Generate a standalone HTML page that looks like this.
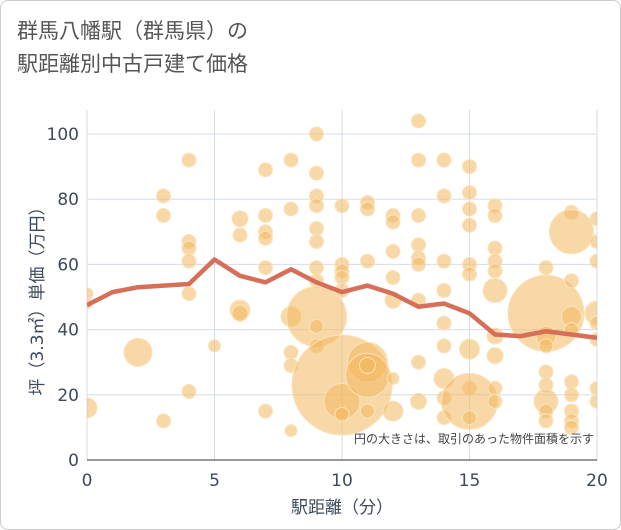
<!DOCTYPE html>
<html><head><meta charset="utf-8">
<style>
body{margin:0;background:#fff;font-family:"DejaVu Sans","Noto Sans CJK JP",sans-serif;}
#wrap{position:relative;width:619px;height:528px;border:1px solid #ccc;border-radius:8px;overflow:hidden;background:#fff}
.title{position:absolute;left:16px;top:14px;font-size:21px;line-height:33px;color:#555;font-family:"Liberation Sans","Noto Sans CJK JP",sans-serif;}
</style></head><body>
<div id="wrap">
<div class="title">群馬八幡駅（群馬県）の<br>駅距離別中古戸建て価格</div>
<svg id="chart" width="621" height="530" style="position:absolute;left:-1px;top:-1px"></svg>
</div>
<script>
const xTicks=[0,5,10,15,20];
const yTicks=[0,20,40,60,80,100];
const lineX=[0,1,2,3,4,5,6,7,8,9,10,11,12,13,14,15,16,17,18,19,20];
const lineY=[47.5,51.5,53,53.5,54,61.5,56.5,54.5,58.5,54.5,51.5,53.5,51,47,48,45,38.5,38,39.5,38.5,37.5];
const bubX=[0,0,0,2,3,3,3,4,4,4,4,4,4,5,6,6,6,6,7,7,7,7,7,7,8,8,8,8,8,8,9,9,9,9,9,9,9,9,9,9,9,10,10,10,10,10,10,10,10,11,11,11,11,11,11,11,12,12,12,12,12,12,12,13,13,13,13,13,13,13,13,13,14,14,14,14,14,14,14,14,14,15,15,15,15,15,15,15,15,15,15,16,16,16,16,16,16,16,16,16,16,18,18,18,18,18,18,18,18,18,19,19,19,19,19,19,19,19,19,19,20,20,20,20,20,20,20,20];
const bubY=[16,51,48,33,81,75,12,92,67,65,61,51,21,35,74,69,46,45,89,75,70,68,59,15,92,77,44,33,29,9,100,88,81,78,71,67,59,55,44,41,35,78,60,58,56,52,23,18,14,79,77,61,30,26,29,15,75,73,64,56,49,25,15,104,92,75,66,62,60,49,30,18,92,81,61,52,42,35,25,19,13,90,82,77,72,60,57,34,22,18,13,78,75,65,61,58,52,38,32,22,18,59,45,38,35,27,23,18,15,12,76,70,55,44,40,24,20,15,12,10,74,67,61,45,42,37,22,18];
const bubR=[10,6,5,14,7,7,7,7,7,7,7,7,7,6,8,7,10,8,7,7,7,7,7,7,7,7,10,7,7,6,7,7,7,7,7,7,7,7,30,7,7,7,7,7,7,7,50,18,7,7,7,7,20,22,8,7,7,7,7,7,8,6,10,7,7,7,7,7,7,7,7,8,7,7,7,7,7,7,10,7,7,7,7,7,7,7,7,10,7,28,7,7,7,7,7,7,12,8,8,7,7,7,38,10,7,7,7,12,7,7,7,22,7,10,7,7,7,7,7,7,7,7,7,12,7,7,7,7];
const NS='http://www.w3.org/2000/svg';
const svg=document.getElementById('chart');
const X0=87,X1=597,Y0=460,Y1=134;
const sx=v=>X0+(v-0)/20*(X1-X0);
const sy=v=>Y0-(v-0)/100*(Y0-Y1);
function mk(t,a){const e=document.createElementNS(NS,t);for(const k in a)e.setAttribute(k,a[k]);svg.appendChild(e);return e;}
const clip=mk('clipPath',{id:'pc'});clip.innerHTML='<rect x="87" y="110" width="510" height="350"/>';
xTicks.forEach(t=>{const l=mk('line',{x1:sx(t),x2:sx(t),y1:110,y2:Y0,stroke:'#d5dde8','stroke-width':1});

const tx=mk('text',{x:sx(t),y:486,'text-anchor':'middle','font-size':17,fill:'#3d4a5c'});tx.textContent=t;
});
yTicks.forEach(t=>{const l=mk('line',{x1:X0,x2:X1,y1:sy(t),y2:sy(t),stroke:'#d5dde8','stroke-width':1});

const tx=mk('text',{x:79,y:sy(t)+6,'text-anchor':'end','font-size':17,fill:'#3d4a5c'});tx.textContent=t;
});
const g=mk('g',{'clip-path':'url(#pc)'});
bubX.forEach((v,i)=>{const c=document.createElementNS(NS,'circle');
c.setAttribute('cx',sx(v));c.setAttribute('cy',sy(bubY[i]));c.setAttribute('r',bubR[i]);
c.setAttribute('fill','#f3b85e');c.setAttribute('fill-opacity','0.55');c.setAttribute('stroke','#fbe3bb');c.setAttribute('stroke-width','1');


g.appendChild(c);});
const p=mk('polyline',{points:lineX.map((v,i)=>sx(v)+','+sy(lineY[i])).join(' '),fill:'none',stroke:'#d66e58','stroke-width':4.5,'stroke-linejoin':'round','clip-path':'url(#pc)'});

const ax=mk('line',{x1:X0,x2:X1,y1:Y0,y2:Y0,stroke:'#333','stroke-width':1});

const note=mk('text',{x:594,y:443,'text-anchor':'end','font-size':12,fill:'#444'});note.textContent='円の大きさは、取引のあった物件面積を示す';

const xt=mk('text',{x:342,y:513,'text-anchor':'middle','font-size':17,fill:'#3d4a5c'});xt.textContent='駅距離（分）';

const yt=mk('text',{x:0,y:0,'text-anchor':'middle','font-size':17,fill:'#3d4a5c',transform:'translate(43,297) rotate(-90)'});yt.textContent='坪（3.3㎡）単価（万円）';

</script>
</body></html>
